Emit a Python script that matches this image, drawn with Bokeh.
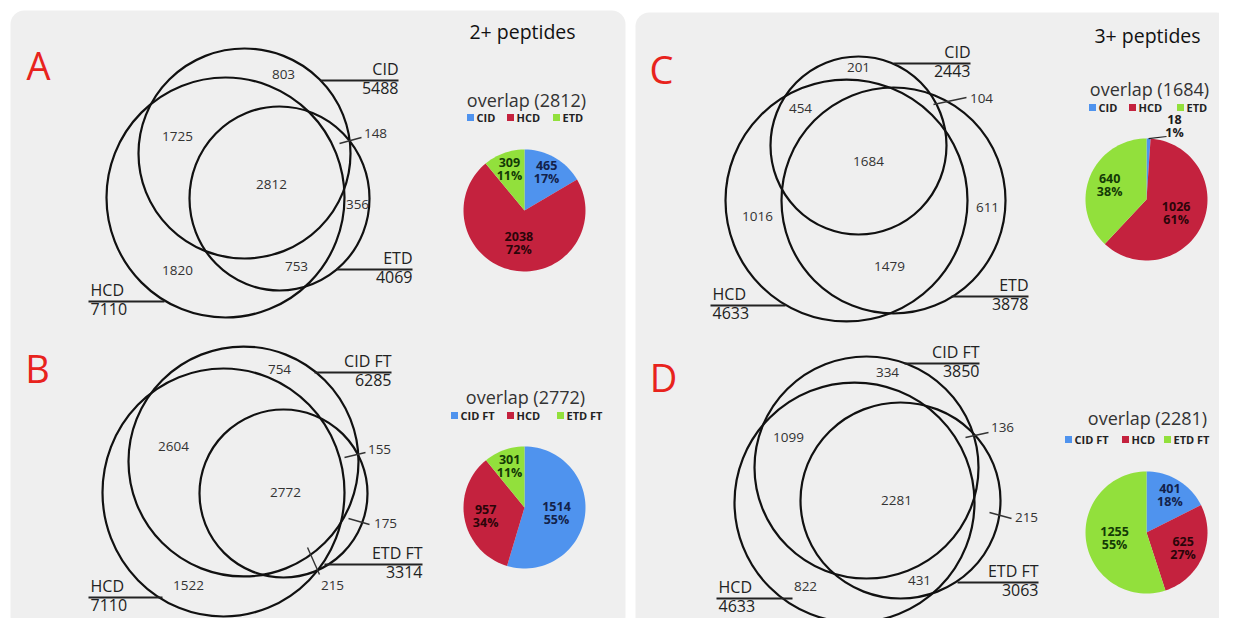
import math
from bokeh.plotting import figure
from bokeh.models import Range1d, ColumnDataSource, BoxAnnotation
from bokeh.embed import file_html
from bokeh.resources import INLINE
from bokeh.core.properties import value

# ---------------- data ----------------
panel_letters = ["A", "B", "C", "D"]
panel_titles = ["2+ peptides", "3+ peptides"]
set_names = [["CID", "HCD", "ETD"], ["CID FT", "HCD", "ETD FT"],
             ["CID", "HCD", "ETD"], ["CID FT", "HCD", "ETD FT"]]
set_totals = [[5488, 7110, 4069], [6285, 7110, 3314],
              [2443, 4633, 3878], [3850, 4633, 3063]]
# regions: CID only, CID&HCD, CID&ETD, all three, ETD only, HCD&ETD, HCD only
region_counts = [[803, 1725, 148, 2812, 356, 753, 1820],
                 [754, 2604, 155, 2772, 175, 215, 1522],
                 [201, 454, 104, 1684, 611, 1479, 1016],
                 [334, 1099, 136, 2281, 215, 431, 822]]
overlap_totals = [2812, 2772, 1684, 2281]
pie_values = [[465, 2038, 309], [1514, 957, 301], [18, 1026, 640], [401, 625, 1255]]
pie_percents = [[17, 72, 11], [55, 34, 11], [1, 61, 38], [18, 27, 55]]

# ---------------- layout (pixel space of the picture) ----------------
FONT = value("Open Sans")
PIE_COLORS = ["#4f93ee", "#c4223e", "#92e03c"]
PIE_TEXT = ["#13224a", "#2b0509", "#143a06"]

layouts = [
    dict(  # A
        ell=[(244, 153, 106, 105), (225, 197, 119, 120), (279, 198, 90, 92)],
        reg=[(283, 74), (177, 136), (375, 133), (271, 184), (357, 204), (296, 266), (177, 270)],
        leaders=[(339, 143, 361, 137)],
        names=[(320, 398, 80, "right"), (88, 164, 301, "left"), (336, 412, 269, "right")],
        letter=(38, 64), pie=(524, 210, 61), ptitle=(526, 99), leg_y=117,
        leg_x=[470, 510, 556]),
    dict(  # B
        ell=[(243, 461, 115, 115), (223, 492, 121, 124), (283, 493, 84, 84)],
        reg=[(279, 369), (173, 446), (379, 449), (285, 492), (385, 523), (332, 585), (188, 585)],
        leaders=[(344, 457, 365, 452), (348, 518, 369, 524), (307, 547, 319, 574)],
        names=[(314, 391, 372, "right"), (88, 162, 597, "left"), (324, 422, 564, "right")],
        letter=(37, 367), pie=(524, 507, 61), ptitle=(525, 396), leg_y=415,
        leg_x=[454, 510, 560]),
    dict(  # C
        ell=[(858, 145, 88, 89), (846, 200, 121, 121), (893, 200, 112, 113)],
        reg=[(858, 67), (800, 108), (981, 98), (868, 161), (987, 207), (889, 266), (757, 216)],
        leaders=[(933, 104, 966, 97)],
        names=[(893, 970, 63, "right"), (710, 785, 305, "left"), (951, 1028, 296, "right")],
        letter=(661, 68), pie=(1146, 199, 61), ptitle=(1149, 88), leg_y=107,
        leg_x=[1092, 1132, 1180]),
    dict(  # D
        ell=[(866, 467, 112, 111), (854, 502, 120, 120), (900, 500, 100, 98)],
        reg=[(887, 372), (788, 437), (1002, 427), (896, 500), (1026, 517), (919, 580), (805, 586)],
        leaders=[(965, 437, 988, 432), (989, 512, 1011, 518)],
        names=[(904, 979, 363, "right"), (716, 792, 598, "left"), (957, 1038, 582, "right")],
        letter=(663, 376), pie=(1146, 532, 61), ptitle=(1147, 417), leg_y=439,
        leg_x=[1068, 1125, 1167]),
]
title_xy = [(522, 31), (1147, 35)]

p = figure(width=1219, height=618, x_range=Range1d(0, 1219), y_range=Range1d(618, 0),
           output_backend="svg", toolbar_location=None,
           x_axis_location=None, y_axis_location=None, min_border=0)
p.grid.visible = False
p.outline_line_color = None
p.background_fill_color = "white"
p.border_fill_color = "white"

# panel backgrounds
for (l, r, t, b) in [(10, 625, 10, 630), (635, 1230, 12, 632)]:
    p.add_layout(BoxAnnotation(left=l, right=r, top=t, bottom=b, fill_color="#efefef",
                               fill_alpha=1.0, line_color=None, border_radius=14,
                               level="underlay"))


def txt(xs, ys, texts, size, color="#333333", align="center", baseline="middle",
        style="normal"):
    src = ColumnDataSource(dict(x=list(xs), y=list(ys), t=list(texts)))
    p.text("x", "y", "t", source=src, text_font=FONT, text_font_size=size,
           text_color=color, text_align=align, text_baseline=baseline,
           text_font_style=style)


for i, L in enumerate(layouts):
    # pie
    cx, cy, rad = L["pie"]
    tot = float(sum(pie_values[i]))
    start = 0.0
    xs_all, ys_all = [], []
    labels = []
    for k, v in enumerate(pie_values[i]):
        frac = v / tot
        end = start + frac
        n = max(4, int(120 * frac))
        angs = [2 * math.pi * (start + (end - start) * j / n) for j in range(n + 1)]
        xs_all.append([cx] + [cx + rad * math.sin(a) for a in angs])
        ys_all.append([cy] + [cy - rad * math.cos(a) for a in angs])
        labels.append((k, v, frac, 2 * math.pi * (start + end) / 2))
        start = end
    p.patches(xs_all, ys_all, fill_color=PIE_COLORS, line_color=None)
    for (k, v, frac, mid) in labels:
        if frac < 0.03:
            lx, ly = cx + 28, cy - 73
            txt([lx], [ly - 7], [str(v)], "12.5px", "#1a1a1a", style="bold")
            txt([lx], [ly + 6], ["%d%%" % pie_percents[i][k]], "12.5px", "#1a1a1a",
                style="bold")
            p.segment([cx + rad * math.sin(mid)], [cy - rad * math.cos(mid)],
                      [lx - 8], [ly + 10], line_color="#222222", line_width=1.2)
        else:
            f = 0.73 if frac < 0.2 else (0.65 if frac < 0.5 else 0.53)
            lx = cx + f * rad * math.sin(mid)
            ly = cy - f * rad * math.cos(mid)
            txt([lx], [ly - 6], [str(v)], "12.5px", PIE_TEXT[k], style="bold")
            txt([lx], [ly + 7], ["%d%%" % pie_percents[i][k]], "12.5px", PIE_TEXT[k],
                style="bold")

    # ellipses
    p.ellipse([e[0] for e in L["ell"]], [e[1] for e in L["ell"]],
              width=[2 * e[2] for e in L["ell"]], height=[2 * e[3] for e in L["ell"]],
              fill_color=None, line_color="#111111", line_width=2.2)
    # region counts
    txt([r[0] for r in L["reg"]], [r[1] for r in L["reg"]],
        [str(v) for v in region_counts[i]], "13.5px", "#333333")
    # leaders
    p.segment([s[0] for s in L["leaders"]], [s[1] for s in L["leaders"]],
              [s[2] for s in L["leaders"]], [s[3] for s in L["leaders"]],
              line_color="#333333", line_width=1.4)
    # set name labels
    for k, (x0, x1, y, al) in enumerate(L["names"]):
        p.segment([x0], [y], [x1], [y], line_color="#222222", line_width=1.8)
        tx = x1 if al == "right" else x0 + 2
        txt([tx], [y - 1], [set_names[i][k]], "16px", "#222222", align=al,
            baseline="bottom")
        txt([tx], [y + 1], [str(set_totals[i][k])], "16px", "#222222", align=al,
            baseline="top")
    # panel letter
    txt([L["letter"][0]], [L["letter"][1]], [panel_letters[i]], "38px", "#e8231d")
    # pie title
    txt([L["ptitle"][0]], [L["ptitle"][1]], ["overlap (%d)" % overlap_totals[i]], "18px",
        "#333333")
    # legend
    for k in range(3):
        lx = L["leg_x"][k]
        p.rect([lx], [L["leg_y"]], width=7, height=7, fill_color=PIE_COLORS[k],
               line_color=None)
        txt([lx + 6], [L["leg_y"]], [set_names[i][k]], "11px", "#222222", align="left",
            style="bold")

for j in range(2):
    txt([title_xy[j][0]], [title_xy[j][1]], [panel_titles[j]], "19.5px", "#111111")

open("out.html", "w").write(file_html(p, INLINE))
